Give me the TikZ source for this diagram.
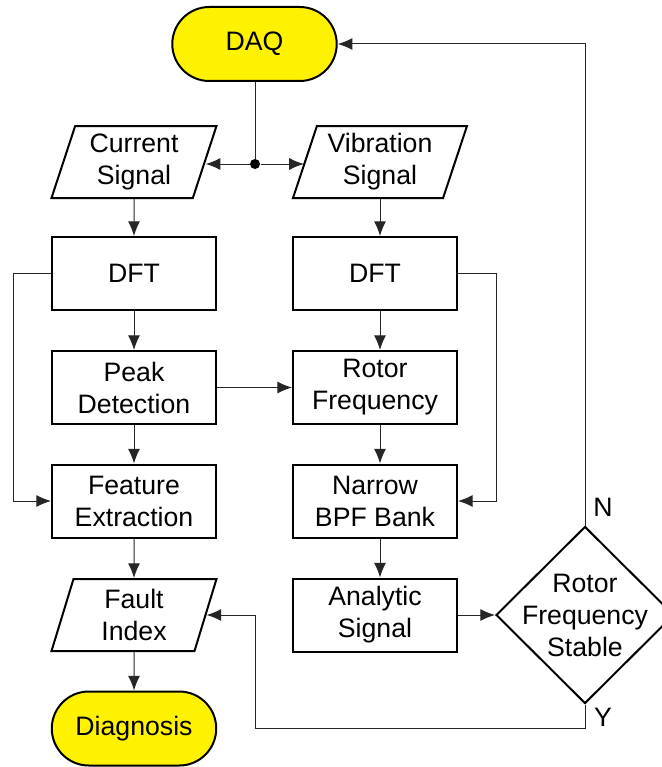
\documentclass[tikz,border=0pt]{standalone}
\usepackage{fontspec}
\setmainfont{Liberation Sans}
\usepackage{tikz}
\usetikzlibrary{shapes.geometric,shapes.misc}
\usetikzlibrary{arrows.meta,positioning}

\begin{document}
\begin{tikzpicture}[x=.75pt, y=-.75pt, line width=.75pt,
  font=\fontsize{20}{24}\selectfont,
  arr/.style={draw=black!85, -{Latex[length=11pt,width=9pt]}},
  wire/.style={draw=black!85},
  proc/.style={draw, line width=1.5pt, rectangle, align=center, minimum width=123pt, minimum height=54.75pt},
  iodata/.style={draw, line width=1.5pt, trapezium, trapezium left angle=70, trapezium right angle=110, trapezium stretches body, align=center, minimum width=123.75pt, minimum height=54pt, inner xsep=2pt},
  termin/.style={draw, line width=1.5pt, rounded rectangle, fill=yellow, minimum width=130pt, minimum height=55.5pt},
  decision/.style={draw, line width=1.5pt, diamond, inner sep=0pt, minimum width=133.5pt, minimum height=132.75pt}]
\useasboundingbox (0,0) rectangle (661,767);
%% nodes
\node[termin] (daq) at (254.5,44) {DAQ}; %%
\node[iodata] (cur) at (134,162) {Current\\Signal}; %%
\node[iodata, minimum width=130.5pt] (vib) at (380,162) {Vibration\\Signal}; %%
\node[proc] (dftc) at (134,273.5) {DFT}; %%
\node[proc] (dftv) at (375,273.5) {DFT}; %%
\node[proc] (peak) at (134,387.5) {Peak\\Detection}; %%
\node[proc] (rotor) at (375,387.5) {Rotor\\Frequency}; %%
\node[proc] (feat) at (134,501) {Feature\\Extraction}; %%
\node[proc] (bpf) at (375,501) {Narrow\\BPF Bank}; %%
\node[iodata] (fault) at (134,615) {Fault\\Index}; %%
\node[proc] (ana) at (375,615) {Analytic\\Signal}; %%
\node[termin] (diag) at (134,728.5) {Diagnosis}; %%
\node[decision, label={[align=center]center:Rotor\\Frequency\\Stable}] (stable) at (585,615) {}; %%
\node[circle, fill, inner sep=0pt, minimum size=7.5pt] (dot) at (255,164) {}; %%
\node (nlab) at (603,507) {N}; %%
\node (ylab) at (603,717) {Y}; %%
\coordinate (ylow) at (255,728); %%
%% connectors
\draw[wire] (dot |- daq.south) -- (dot); %%
\draw[arr] (dot) -- (dot -| cur.east); %%
\draw[arr] (dot) -- (dot -| vib.west); %%
\draw[arr] (cur) -- (dftc); %%
\draw[arr] (vib.south) -- (vib.south |- dftv.north); %%
\draw[arr] (dftc) -- (peak); %%
\draw[arr] (dftv.south -| vib) -- (rotor.north -| vib); %%
\draw[arr] (peak) -- (rotor); %%
\draw[arr] (peak) -- (feat); %%
\draw[arr] (rotor.south -| vib) -- (bpf.north -| vib); %%
\draw[arr] (dftc.west) -- ++(-38,0) |- (feat.west); %%
\draw[arr] (dftv.east) -- ++(38,0) |- (bpf.east); %%
\draw[arr] (feat) -- (fault); %%
\draw[arr] (bpf.south -| vib) -- (ana.north -| vib); %%
\draw[arr] (fault) -- (diag); %%
\draw[arr] (ana) -- (stable); %%
\draw[arr] (stable.north) |- (daq.east); %%
\draw[arr] (stable.south) |- (ylow) |- (fault.east); %%
\end{tikzpicture}
\end{document}
